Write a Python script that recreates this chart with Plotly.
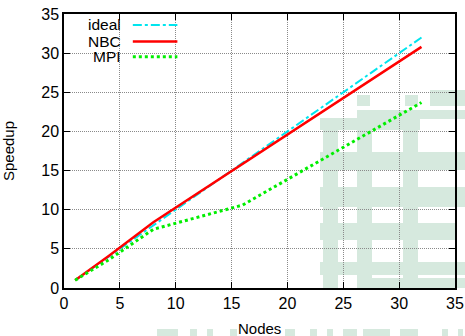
import plotly.graph_objects as go

nodes = [1, 2, 4, 8, 16, 32]
ideal = [1, 2, 4, 8, 16, 32]
nbc = [1, 2.0, 4.1, 8.4, 15.9, 30.8]
mpi = [1, 1.9, 3.6, 7.5, 10.6, 23.7]

names = ["ideal", "NBC", "MPI"]
colors = ["#00e5ee", "#ff0000", "#00ee00"]
dashes = ["dashdot", "solid", "dot"]
widths = [2, 2.5, 3]
series = [ideal, nbc, mpi]

FONT = "Liberation Sans"
W, H = 465, 336
ML, MR, MT, MB = 64, 10, 14, 48
PW, PH = W - ML - MR, H - MT - MB

fig = go.Figure()
for n, ys, c, d, w in zip(names, series, colors, dashes, widths):
    fig.add_trace(go.Scatter(x=nodes, y=ys, mode="lines", name=n,
                             line=dict(color=c, dash=d, width=w), showlegend=False))

# faint background watermark blocks (decoration), given in page pixels
WM = "#d6e9de"
wm_rects = [
    (357, 370, 95, 106), (405, 418, 95, 106), (430, 465, 90, 106),
    (357, 465, 110, 119), (320, 420, 118, 130),
    (323, 338, 118, 288), (357, 372, 118, 288), (403, 418, 118, 288),
    (320, 465, 152, 170), (320, 465, 187, 207), (320, 455, 223, 240),
    (320, 465, 262, 275), (357, 465, 278, 288),
    (157, 178, 329, 336), (190, 197, 329, 336), (207, 213, 329, 336), (230, 237, 329, 336),
    (285, 295, 329, 336), (310, 317, 329, 336), (327, 333, 329, 336), (343, 357, 329, 336),
    (363, 390, 329, 336), (400, 418, 329, 336), (442, 448, 329, 336), (458, 463, 329, 336),
]
for x0, x1, y0, y1 in wm_rects:
    fig.add_shape(type="rect", xref="paper", yref="paper", layer="below",
                  x0=(x0 - ML) / PW, x1=(x1 - ML) / PW,
                  y0=(MT + PH - y1) / PH, y1=(MT + PH - y0) / PH,
                  line=dict(width=0), fillcolor=WM)

# gnuplot-style legend: label right-aligned, sample to the right
leg_y = [0.96, 0.90, 0.844]
for n, c, d, w, yy in zip(names, colors, dashes, widths, leg_y):
    fig.add_annotation(xref="paper", yref="paper", x=0.148, y=yy, xanchor="right", yanchor="middle",
                       text=n, showarrow=False, borderpad=0,
                       font=dict(size=15.5, color="black", family=FONT))
    fig.add_shape(type="line", xref="paper", yref="paper", x0=0.176, x1=0.29, y0=yy, y1=yy,
                  line=dict(color=c, dash=d, width=w))

# axis titles
fig.add_annotation(xref="paper", yref="paper", x=0.5, y=0, yshift=-40, xanchor="center", yanchor="middle",
                   text="Nodes", showarrow=False, font=dict(size=15, color="black", family=FONT))
fig.add_annotation(xref="paper", yref="paper", x=0, y=0.5, xshift=-56, xanchor="center", yanchor="middle",
                   text="Speedup", textangle=-90, showarrow=False, font=dict(size=15, color="black", family=FONT))

axis_common = dict(showline=True, linecolor="black", linewidth=1.5, mirror="ticks",
                   ticks="inside", ticklen=6, tickcolor="black", automargin=False,
                   showgrid=True, gridcolor="#8a8a8a", griddash="1px,1px", gridwidth=1,
                   zeroline=False, dtick=5, tickfont=dict(size=16, color="black", family=FONT))

fig.update_xaxes(range=[0, 35], **axis_common)
fig.update_yaxes(range=[0, 35], **axis_common)

fig.update_layout(width=W, height=H, margin=dict(l=ML, r=MR, t=MT, b=MB),
                  plot_bgcolor="rgba(0,0,0,0)", paper_bgcolor="white",
                  font=dict(family=FONT, color="black"))

fig.write_html("out.html")
